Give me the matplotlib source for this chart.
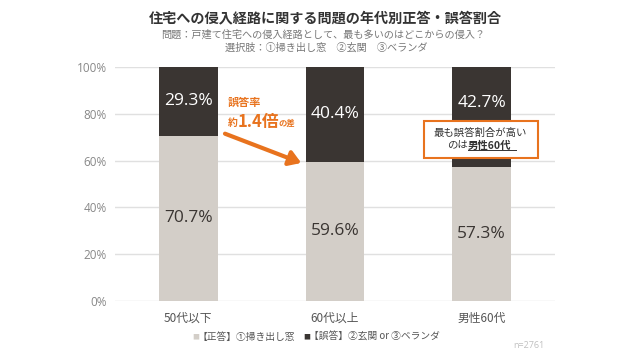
import numpy as np
import matplotlib.pyplot as plt
from matplotlib.patches import Rectangle

plt.rcParams['font.family'] = ['Noto Sans CJK JP', 'DejaVu Sans']

# data
groups = ['50代以下', '60代以上', '男性60代']
correct = [70.7, 59.6, 57.3]
wrong = [29.3, 40.4, 42.7]
legend_labels = ['【正答】①掃き出し窓', '【誤答】②玄関 or ③ベランダ']
yticks = [0, 20, 40, 60, 80, 100]

c_light = '#d3cec8'
c_dark = '#3a3532'
c_orange = '#e8731e'

fig = plt.figure(figsize=(6.4, 3.6), dpi=100)
# axes: x 115..555 px, y 67..301 px
ax = fig.add_axes([115 / 640, 59 / 360, 440 / 640, 234 / 360])

x = np.arange(len(groups))
ax.bar(x, correct, width=0.4, color=c_light, zorder=2)
ax.bar(x, wrong, width=0.4, bottom=correct, color=c_dark, zorder=2)

for i in range(len(groups)):
    ax.text(x[i], correct[i] / 2, f'{correct[i]}%', ha='center', va='center',
            fontsize=12.5, color='#3a3532', family='Open Sans')
    ytop = correct[i] + wrong[i] / 2
    if i == 2:
        ytop = 84.5  # moved up to make room for the callout box
    ax.text(x[i], ytop, f'{wrong[i]}%', ha='center', va='center',
            fontsize=12.5, color='white', family='Open Sans')

ax.set_xlim(-0.5, 2.5)
ax.set_ylim(0, 100)
ax.set_yticks(yticks)
ax.set_yticklabels([f'{t}%' for t in yticks], fontsize=8.5, color='#888888', family='Open Sans')
ax.set_xticks(x)
ax.set_xticklabels(groups, fontsize=8.5, color='#555555')
ax.tick_params(axis='y', length=0, pad=6)
ax.tick_params(axis='x', length=0, pad=8)
ax.grid(axis='y', color='#e0e0e0', linewidth=1, zorder=0)
for s in ax.spines.values():
    s.set_visible(False)

# arrow and callouts
ax.annotate('', xy=(0.77, 59), xytext=(0.25, 71.5),
            arrowprops=dict(arrowstyle='-|>,head_length=0.7,head_width=0.45',
                            color=c_orange, lw=3, shrinkA=0, shrinkB=0))
ax.text(0.266, 84.7, '誤答率', color=c_orange, fontsize=8, fontweight='bold', va='center')
ax.text(0.266, 76.2, '約', color=c_orange, fontsize=7, fontweight='bold', va='center')
ax.text(0.335, 76.4, '1.4倍', color=c_orange, fontsize=12, fontweight='bold', va='center')
ax.text(0.615, 75.8, 'の差', color=c_orange, fontsize=6, fontweight='bold', va='center')

ax.add_patch(Rectangle((1.604, 61.3), 0.778, 15.7, facecolor='white',
                       edgecolor=c_orange, lw=1.5, zorder=3))
ax.text(1.99, 71.9, '最も誤答割合が高い', color='#333333', fontsize=7.5,
        ha='center', va='center', zorder=4)
ax.text(1.905, 66.4, 'のは', color='#333333', fontsize=7.5, ha='right', va='center', zorder=4)
ax.text(1.905, 66.4, '男性60代', color='#333333', fontsize=7.5, fontweight='bold',
        ha='left', va='center', zorder=4)
ax.plot([1.905, 2.232], [64.4, 64.4], color='#333333', lw=0.7, zorder=4)

# titles
fig.text(0.508, 0.95, '住宅への侵入経路に関する問題の年代別正答・誤答割合', ha='center', va='center',
         fontsize=10.2, fontweight='bold', color='#333333')
fig.text(0.505, 0.905, '問題：戸建て住宅への侵入経路として、最も多いのはどこからの侵入？', ha='center',
         va='center', fontsize=7.3, color='#777777')
fig.text(0.509, 0.869, '選択肢：①掃き出し窓　②玄関　③ベランダ', ha='center', va='center',
         fontsize=7.3, color='#777777')

# legend
ly = 1 - 337 / 360
fig.text(192 / 640, ly, '■', color=c_light, fontsize=5, va='center')
fig.text(198 / 640, ly, legend_labels[0], color='#555555', fontsize=7, va='center')
fig.text(303 / 640, ly, '■', color=c_dark, fontsize=5, va='center')
fig.text(309 / 640, ly, legend_labels[1], color='#555555', fontsize=7, va='center')
fig.text(513 / 640, 1 - 346 / 360, 'n=2761', color='#c0c0c0', fontsize=6.5, va='center',
         family='Open Sans')

fig.savefig('out.png', dpi=100)
